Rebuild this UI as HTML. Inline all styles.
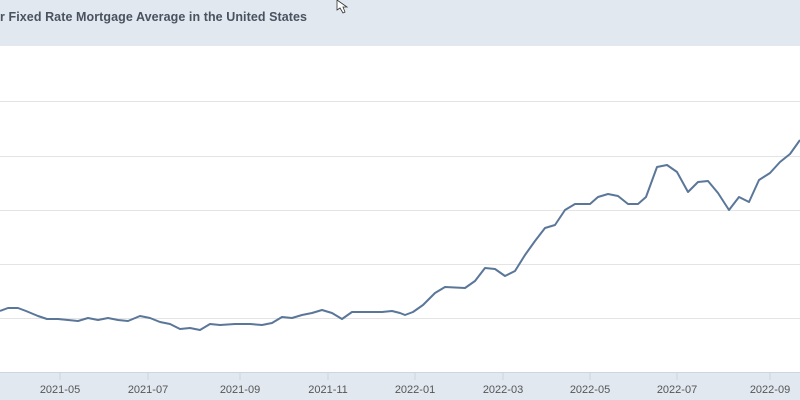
<!DOCTYPE html>
<html><head><meta charset="utf-8"><style>
body{margin:0;width:800px;height:400px;overflow:hidden;background:#fff;font-family:"Liberation Sans",sans-serif}
</style></head><body>
<svg width="800" height="400" xmlns="http://www.w3.org/2000/svg" style="display:block">
<rect x="0" y="0" width="800" height="46" fill="#e1e8f0"/>
<text x="-7" y="21" font-size="12.5" font-weight="bold" fill="#4a5260" textLength="314" font-family="Liberation Sans, sans-serif">ar Fixed Rate Mortgage Average in the United States</text>
<path d="M337 0 L337 10 L340 8 L343 13 L345 12 L343 7 L347 7 Z" fill="#fff" stroke="#333" stroke-width="0.8"/>
<g stroke="#e4e4e4" stroke-width="1">
<line x1="0" x2="800" y1="101.5" y2="101.5"/>
<line x1="0" x2="800" y1="156.5" y2="156.5"/>
<line x1="0" x2="800" y1="210.5" y2="210.5"/>
<line x1="0" x2="800" y1="264.5" y2="264.5"/>
<line x1="0" x2="800" y1="318.5" y2="318.5"/>
</g>
<rect x="0" y="372" width="800" height="28" fill="#e1e8f0"/>
<line x1="0" x2="800" y1="372.5" y2="372.5" stroke="#ccd6e0"/>
<g stroke="#ccd6e0"><line x1="60" x2="60" y1="372" y2="380"/><line x1="148" x2="148" y1="372" y2="380"/><line x1="240" x2="240" y1="372" y2="380"/><line x1="328" x2="328" y1="372" y2="380"/><line x1="415" x2="415" y1="372" y2="380"/><line x1="503" x2="503" y1="372" y2="380"/><line x1="590" x2="590" y1="372" y2="380"/><line x1="677" x2="677" y1="372" y2="380"/><line x1="770" x2="770" y1="372" y2="380"/></g>
<g font-size="11" fill="#555" text-anchor="middle" font-family="Liberation Sans, sans-serif">
<text x="60" y="393">2021-05</text><text x="148" y="393">2021-07</text><text x="240" y="393">2021-09</text><text x="328" y="393">2021-11</text><text x="415" y="393">2022-01</text><text x="503" y="393">2022-03</text><text x="590" y="393">2022-05</text><text x="677" y="393">2022-07</text><text x="770" y="393">2022-09</text>
</g>
<polyline fill="none" stroke="#5a7699" stroke-width="2" stroke-linejoin="round" points="0,311 8,308 18,308 26,311 38,316 47,319 58,319 68,320 78,321 88,318 98,320 108,318 118,320 128,321 140,316 150,318 160,322 170,324 180,329 190,328 200,330 210,324 220,325 235,324 250,324 262,325 272,323 282,317 292,318 302,315 312,313 322,310 332,313 342,319 352,312 362,312 372,312 382,312 392,311 400,313 405,315 413,312 423,305 435,293 445,287 465,288 475,281 485,268 495,269 505,276 515,271 525,255 535,241 545,228 555,225 565,210 575,204 590,204 598,197 608,194 618,196 628,204 638,204 646,197 657,167 667,165 677,172 688,192 698,182 708,181 718,193 729,210 739,197 749,202 759,180 770,173 780,162 790,154 800,140"/>
</svg>
</body></html>
